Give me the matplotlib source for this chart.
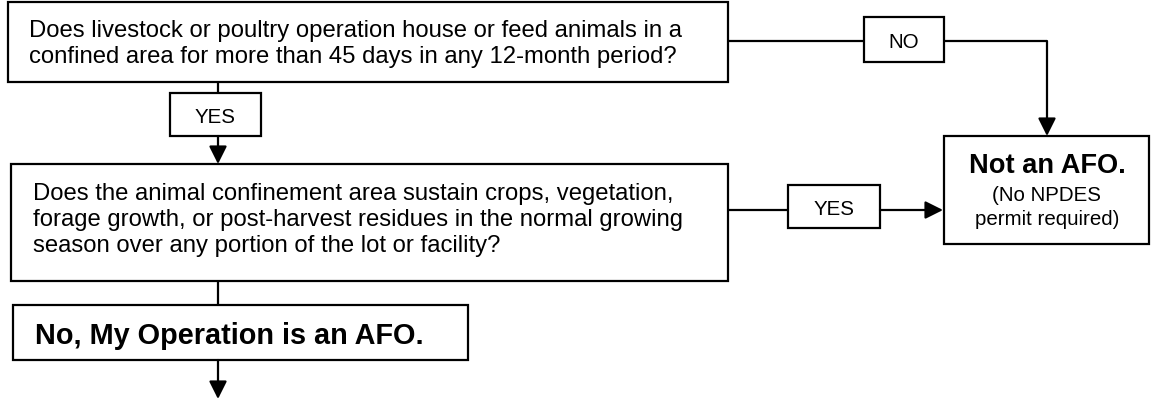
import matplotlib
import matplotlib.pyplot as plt
from matplotlib.patches import Rectangle

matplotlib.rcParams['font.family'] = ['Liberation Sans', 'DejaVu Sans']

# text of the flowchart
q1_lines = ['Does livestock or poultry operation house or feed animals in a',
            'confined area for more than 45 days in any 12-month period?']
q2_lines = ['Does the animal confinement area sustain crops, vegetation,',
            'forage growth, or post-harvest residues in the normal growing',
            'season over any portion of the lot or facility?']
afo_label = 'No, My Operation is an AFO.'
not_afo_title = 'Not an AFO.'
not_afo_lines = ['(No NPDES', 'permit required)']
answer_q1_down = 'YES'
answer_q1_right = 'NO'
answer_q2_right = 'YES'

W, H = 1152, 402
fig = plt.figure(figsize=(W / 100., H / 100.), dpi=100)
ax = fig.add_axes([0, 0, 1, 1])
ax.set_xlim(0, W)
ax.set_ylim(H, 0)
ax.axis('off')

lw = 1.6


def box(x0, y0, x1, y1):
    ax.add_patch(Rectangle((x0, y0), x1 - x0, y1 - y0, fill=False,
                           edgecolor='black', lw=lw))


def line(pts):
    xs = [p[0] for p in pts]
    ys = [p[1] for p in pts]
    ax.plot(xs, ys, color='black', lw=lw, solid_capstyle='butt')


def arrow(start, tip):
    ax.annotate('', xy=tip, xytext=start,
                arrowprops=dict(arrowstyle='-|>,head_length=0.4,head_width=0.2',
                                mutation_scale=27, lw=lw, color='black',
                                shrinkA=0, shrinkB=0))


def label_box(x0, y0, x1, y1, txt, size=14.8):
    box(x0, y0, x1, y1)
    ax.text((x0 + x1) / 2., (y0 + y1) / 2. + 7.5, txt, fontsize=size,
            ha='center', va='baseline')


# question 1
box(8, 3, 728, 83)
for i, t in enumerate(q1_lines):
    ax.text(29, 37 + 26 * i, t, fontsize=17.2, ha='left', va='baseline')

# down: YES to question 2
line([(218, 83), (218, 94)])
label_box(170, 94, 261, 137, answer_q1_down)
arrow((218, 137), (218, 165))

# question 2
box(11, 165, 728, 282)
for i, t in enumerate(q2_lines):
    ax.text(33, 200 + 26 * i, t, fontsize=17.2, ha='left', va='baseline')

# right: NO to not an AFO
line([(728, 42), (864, 42)])
label_box(864, 18, 944, 63, answer_q1_right)
line([(944, 42), (1047, 42)])
arrow((1047, 42), (1047, 137))

# right: YES to not an AFO
line([(728, 211), (788, 211)])
label_box(788, 186, 880, 229, answer_q2_right)
arrow((880, 211), (943, 211))

# not an AFO box
box(944, 137, 1149, 245)
ax.text(1047, 173, not_afo_title, fontsize=19.6, fontweight='bold',
        ha='center', va='baseline')
for i, t in enumerate(not_afo_lines):
    ax.text(1047, 201 + 24 * i, t, fontsize=14.8, ha='center', va='baseline')

# down: AFO
line([(218, 282), (218, 306)])
box(13, 306, 468, 361)
ax.text(35, 344, afo_label, fontsize=20.8, fontweight='bold',
        ha='left', va='baseline')
arrow((218, 361), (218, 400))

fig.savefig('out.png', dpi=100)
